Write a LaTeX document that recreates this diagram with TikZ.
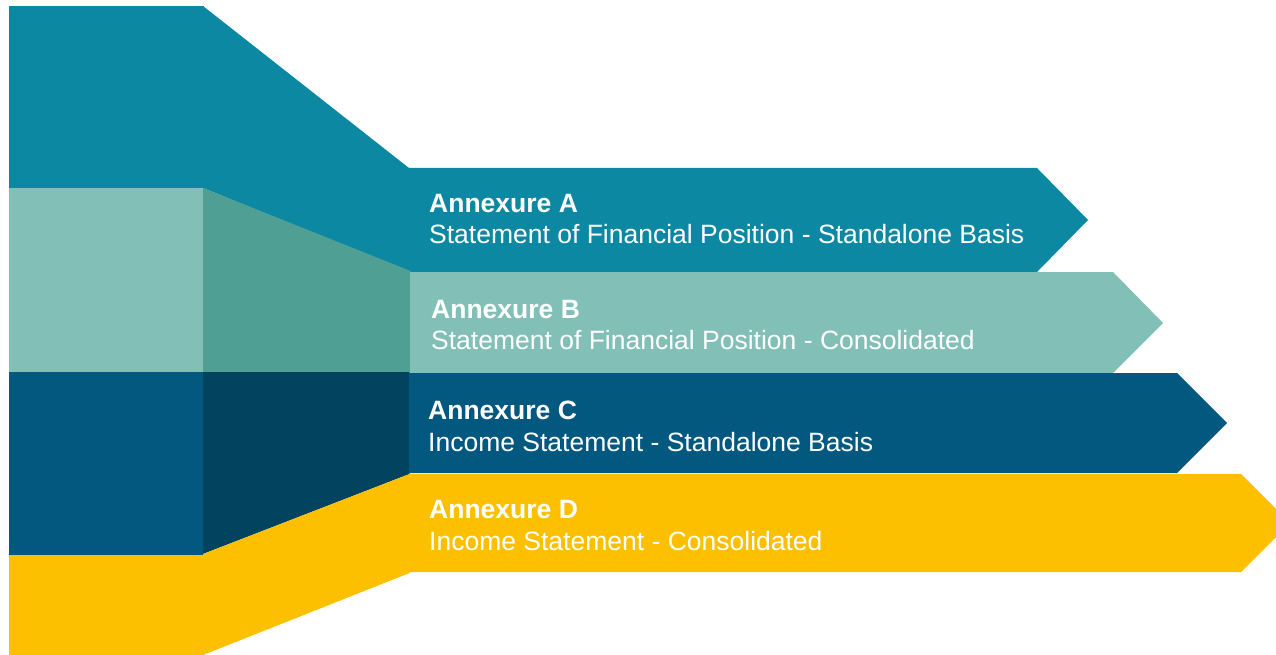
\documentclass[tikz,border=0pt]{standalone}
\usepackage{fontspec}
\setmainfont{Liberation Sans}
\definecolor{cA}{HTML}{0D88A2}
\definecolor{cB}{HTML}{82C0B7}
\definecolor{cBm}{HTML}{509F94}
\definecolor{cC}{HTML}{02587F}
\definecolor{cCm}{HTML}{02435F}
\definecolor{cD}{HTML}{FDC000}
\tikzset{
  ttl/.style={anchor=base west,inner sep=0pt,text=white,font=\fontsize{26.5}{31}\selectfont\bfseries},
  dsc/.style={anchor=base west,inner sep=0pt,text=white,font=\fontsize{26.5}{31}\selectfont},
}
\begin{document}
\begin{tikzpicture}[x=1pt,y=-1pt]
\useasboundingbox (0,0) rectangle (1276,655);
\clip (0,0) rectangle (1276,655);
% Annexure A
\fill[cA] (9,6) rectangle (203.5,188);
\fill[cA] (203,6) -- (409,168) -- (409,272) -- (203,188) -- cycle;
\fill[cA] (408,168) -- (1037,168) -- (1088,220) -- (1037,272) -- (408,272) -- cycle;
% Annexure B
\fill[cB] (9,188) rectangle (203.5,372);
\fill[cBm] (203,188) -- (410.5,271) -- (410.5,372) -- (203,372) -- cycle;
\fill[cB] (410,272) -- (1113,272) -- (1163,323) -- (1113,373) -- (410,373) -- cycle;
% Annexure C
\fill[cC] (9,372) rectangle (203.5,555);
\fill[cCm] (203,372) -- (409.5,372) -- (409.5,474) -- (203,554) -- cycle;
\fill[cC] (409,373) -- (1177,373) -- (1227,423) -- (1177,473) -- (409,473) -- cycle;
% Annexure D
\fill[cD] (9,555) rectangle (203.5,655);
\fill[cD] (203,554) -- (409.5,474) -- (409.5,573) -- (203,655) -- cycle;
\fill[cD] (409,474) -- (1241,474) -- (1290,523) -- (1241,572) -- (409,572) -- cycle;
% texts
\node[ttl] (tA) at (429,212) {Annexure A};
\node[dsc] (dA) at (429,243) {Statement of Financial Position - Standalone Basis};
\node[ttl] (tB) at (431,318) {Annexure B};
\node[dsc] (dB) at (431,349) {Statement of Financial Position - Consolidated};
\node[ttl] (tC) at (428,419) {Annexure C};
\node[dsc] (dC) at (428,451) {Income Statement - Standalone Basis};
\node[ttl] (tD) at (429,518) {Annexure D};
\node[dsc] (dD) at (429,550) {Income Statement - Consolidated};
\end{tikzpicture}
\end{document}
